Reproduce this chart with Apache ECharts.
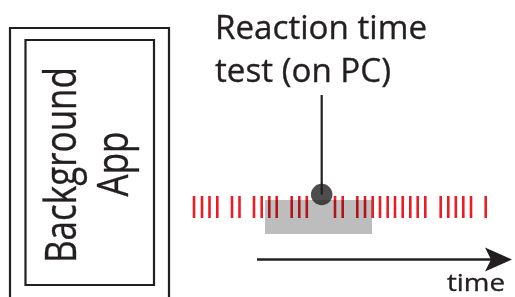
<!DOCTYPE html>
<html>
<head>
<meta charset="utf-8">
<script src="https://cdn.jsdelivr.net/npm/echarts@6/dist/echarts.min.js"></script>
<style>html,body{margin:0;padding:0;background:#fff;}#c{width:515px;height:297px;}</style>
</head>
<body>
<div id="c"></div>
<script>
// Event times (red ticks) along the time axis
const eventTimes = [194, 202, 209.5, 217.3, 232, 239.5, 254, 261.7, 269.3, 276.7, 291.7, 299.3, 306.8,
  335, 342.7, 357.3, 365, 372.7, 380, 387.7, 395, 402.7, 410.3, 417.7, 425.3,
  440.7, 448.3, 455.8, 463.3, 471, 485.7];
// Test window (gray) [start, end]
const testWindow = [265, 372];
// Reaction time test marker time
const markerTime = 321.7;
// Time axis arrow [start, end]
const timeArrow = [257, 507];
// Labels
const testLabel = ['Reaction time', 'test (on PC)'];
const appLabel = ['Background', 'App'];
const axisLabel = 'time';

const FONT = 'Open Sans';
const INK = '#231f20';
const ctx = document.createElement('canvas').getContext('2d');
function textW(text, size) {
  ctx.font = size + 'px "' + FONT + '"';
  return ctx.measureText(text).width;
}
// text element: baseline at (x,b), font size fs, horizontally scaled so that refText spans width w
function label(text, x, b, fs, refText, w, align, rot) {
  const sx = w / textW(refText, fs);
  const mid = 0.388 * fs; // distance from baseline to em middle
  let px = x, py = b - mid;
  if (rot) { px = x - mid; py = b; }
  return {type: 'text', x: px, y: py, rotation: rot || 0, scaleX: sx, scaleY: 1,
    style: {text: text, font: fs + 'px "' + FONT + '"', fill: INK, align: align, verticalAlign: 'middle',
      stroke: INK, lineWidth: 0.35}};
}

const chart = echarts.init(document.getElementById('c'), null, {renderer: 'canvas'});
function build() {
  const option = {
    animation: false,
    grid: {left: 0, right: 0, top: 0, bottom: 0},
    xAxis: {type: 'value', min: 0, max: 515, show: false},
    yAxis: {type: 'value', min: 0, max: 297, inverse: true, show: false},
    series: [
      { // boxes + vertical label
        type: 'custom', z: 1, silent: true,
        renderItem: function (params, api) {
          const o1 = api.coord([10, 28]), o2 = api.coord([169, 300]);
          const i1 = api.coord([25.5, 40]), i2 = api.coord([154, 285]);
          const c = api.coord([0, 165]);
          return {type: 'group', children: [
            {type: 'rect', shape: {x: o1[0], y: o1[1], width: o2[0] - o1[0], height: o2[1] - o1[1]},
             style: {fill: 'none', stroke: INK, lineWidth: 2.2}},
            {type: 'rect', shape: {x: i1[0], y: i1[1], width: i2[0] - i1[0], height: i2[1] - i1[1]},
             style: {fill: 'none', stroke: INK, lineWidth: 2.2}},
            label(appLabel[0], api.coord([80.5, 0])[0], c[1], 44, appLabel[0], 196, 'center', Math.PI / 2),
            label(appLabel[1], api.coord([132.5, 0])[0], c[1] - 1, 44, appLabel[0], 196, 'center', Math.PI / 2)
          ]};
        },
        data: [[0, 0]]
      },
      { // red ticks
        type: 'scatter', z: 2, symbol: 'rect', symbolSize: [2.6, 22],
        itemStyle: {color: '#ed1c24', opacity: 1}, silent: true,
        data: eventTimes.map(t => [t, 207])
      },
      { // gray test window overlay
        type: 'custom', z: 3, silent: true,
        renderItem: function (params, api) {
          const p1 = api.coord([api.value(0), 200]), p2 = api.coord([api.value(1), 234]);
          return {type: 'rect', shape: {x: p1[0], y: p1[1], width: p2[0] - p1[0], height: p2[1] - p1[1]},
            style: {fill: 'rgba(0,0,0,0.26)'}};
        },
        data: [testWindow]
      },
      { // stem
        type: 'line', z: 4, symbol: 'none', lineStyle: {color: INK, width: 2.2}, silent: true,
        data: [[markerTime, 95], [markerTime, 194.5]]
      },
      { // marker dot
        type: 'scatter', z: 5, symbolSize: 21.5, itemStyle: {color: INK}, silent: true,
        data: [[markerTime, 194.5]]
      },
      { // time axis arrow
        type: 'line', z: 4, symbol: 'none', lineStyle: {color: INK, width: 2.3}, silent: true,
        data: [[timeArrow[0], 259.5], [timeArrow[1], 259.5]]
      },
      { // arrow head + text labels
        type: 'custom', z: 6, silent: true,
        renderItem: function (params, api) {
          const tip = api.coord([512, 259.5]);
          const p = api.coord([215, 42.5]);
          const q = api.coord([447, 293.3]);
          return {type: 'group', children: [
            {type: 'polygon', shape: {points: [
              [tip[0], tip[1]], [tip[0] - 27, tip[1] - 12], [tip[0] - 21, tip[1]], [tip[0] - 27, tip[1] + 12]]},
              style: {fill: INK}},
            label(testLabel[0], p[0], p[1], 33, testLabel[0], 212, 'left'),
            label(testLabel[1], p[0], p[1] + 43, 33, testLabel[0], 212, 'left'),
            label(axisLabel, q[0], q[1], 24, axisLabel, 58, 'left')
          ]};
        },
        data: [[0, 0]]
      }
    ]
  };
  chart.setOption(option);
}
if (document.fonts && document.fonts.load) {
  document.fonts.load('30px "' + FONT + '"').then(build, build);
} else { build(); }
</script>
</body>
</html>
